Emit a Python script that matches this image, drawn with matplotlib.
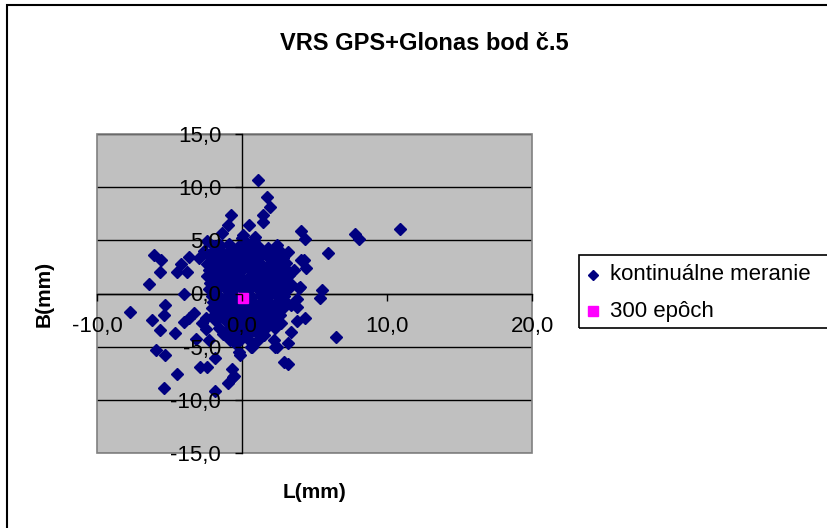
import matplotlib
matplotlib.use("Agg")
import matplotlib.pyplot as plt
from matplotlib.patches import Rectangle
from matplotlib.lines import Line2D
from matplotlib.ticker import FuncFormatter

plt.rcParams['font.family'] = ['Liberation Sans', 'DejaVu Sans']
plt.rcParams['axes.unicode_minus'] = False

title = "VRS GPS+Glonas bod č.5"
x_label = "L(mm)"
y_label = "B(mm)"
series_names = ["kontinuálne meranie", "300 epôch"]

# continuous measurement: L offsets (mm)
cont_L = [
    # outlying epochs
    1.1, 1.7, 1.9, 1.45, 1.45, -0.75, -1.0, 0.5, 0.9, 0.1, 2.4, -2.4,
    -6.1, -5.6, -5.65, -6.4, -3.65, -4.2, -4.45, -3.8, -7.7, -5.3, -5.4, -6.2,
    -5.65, -4.6, -4.0, -3.65, -3.3, -5.9, -5.3, -4.45, -5.4, -1.85, -2.9, -2.4,
    -0.7, -0.55, -0.95, -1.85, -0.15, 0.65, -0.45, 2.3, 2.9, 4.1, 4.35, 7.8,
    8.05, 10.9, 5.95, 3.2, 2.8, 2.55, 4.1, 4.4, 3.6, 4.0, 5.5, 5.4,
    3.8, 4.35, 3.8, 6.5, 2.7, 3.35, 3.2, 2.4, 3.2, 2.2, 0.7, -0.2,
    -0.65, -3.0, -2.6, -1.9, -1.4, -1.6, -2.5, -2.75, -2.3, -3.2, -4.0, -2.5,
    3.9, 3.25, 3.0, 3.8, 3.35, 0.0, 0.8, 4.3,
    # core of the cloud
    -1.5, -0.9, -0.3, 0.4, 1.1, 1.8,
    -2.0, -1.4, -0.8, -0.2, 0.3, 0.8, 1.4, 2.0, 2.6,
    -2.2, -1.7, -1.1, -0.5, 0.0, 0.6, 1.1, 1.7, 2.2, 2.8,
    -2.4, -1.9, -1.3, -0.8, -0.2, 0.3, 0.9, 1.4, 2.0, 2.5, 3.0,
    -2.3, -1.6, -1.0, -0.5, 0.1, 0.6, 1.2, 1.7, 2.3, 2.9,
    -2.4, -1.9, -1.3, -0.7, -0.2, 0.4, 0.9, 1.5, 2.0, 2.6, 3.2,
    -2.2, -1.6, -1.1, -0.5, 0.1, 0.6, 1.2, 1.7, 2.3, 2.8, 3.4,
    -2.3, -1.8, -1.2, -0.7, -0.1, 0.4, 1.0, 1.5, 2.1, 2.6, 3.2,
    -2.1, -1.5, -1.0, -0.4, 0.2, 0.7, 1.3, 1.8, 2.4, 2.9,
    -2.0, -1.4, -0.9, -0.3, 0.3, 0.8, 1.4, 1.9, 2.5, 3.0,
    -2.1, -1.6, -1.0, -0.5, 0.1, 0.6, 1.2, 1.7, 2.3, 2.8,
    -1.9, -1.3, -0.8, -0.2, 0.4, 0.9, 1.5, 2.0, 2.6,
    -1.8, -1.2, -0.6, -0.1, 0.5, 1.0, 1.6, 2.1,
    -1.6, -1.0, -0.4, 0.2, 0.7, 1.3, 1.8, 2.3,
    -1.3, -0.7, -0.1, 0.4, 1.0, 1.5,
    -0.8, -0.2, 0.4, 1.0,
]

# continuous measurement: B offsets (mm)
cont_B = [
    10.7, 9.1, 8.1, 7.4, 6.7, 7.4, 6.45, 6.45, 5.35, 5.5, 4.55, 4.9,
    3.6, 3.15, 2.0, 0.9, 3.45, 2.8, 2.0, 2.0, -1.7, -1.05, -2.0, -2.45,
    -3.4, -3.7, -2.7, -2.3, -1.8, -5.3, -5.75, -7.55, -8.9, -6.1, -6.9, -6.9,
    -7.1, -7.75, -8.4, -9.2, -5.75, -5.0, -4.7, -5.0, -6.45, 5.9, 5.1, 5.55,
    5.1, 6.05, 3.8, 3.9, 3.3, 2.7, 3.15, 2.4, 2.2, 0.6, 0.3, -0.4,
    -0.5, -2.35, -2.6, -4.1, -2.8, -3.6, -4.7, -5.0, -6.6, -4.4, -5.0, -5.5,
    -7.85, 3.3, 4.0, 4.45, 5.7, 4.7, -3.3, -2.8, -4.4, -4.25, 0.0, -2.35,
    0.5, 1.7, 2.35, -1.25, -1.1, 5.2, 5.0, 3.15,
    4.5, 4.7, 4.4, 4.6, 4.5, 4.3,
    4.0, 3.9, 4.1, 3.9, 4.1, 3.9, 4.0, 3.9, 4.0,
    3.4, 3.3, 3.5, 3.3, 3.5, 3.4, 3.3, 3.5, 3.3, 3.4,
    2.8, 2.7, 2.9, 2.7, 2.9, 2.7, 2.9, 2.7, 2.9, 2.7, 2.9,
    2.2, 2.1, 2.3, 2.1, 2.3, 2.1, 2.2, 2.3, 2.1, 2.2,
    1.6, 1.5, 1.7, 1.5, 1.7, 1.5, 1.7, 1.5, 1.7, 1.5, 1.6,
    1.0, 0.9, 1.1, 0.9, 1.1, 0.9, 1.1, 0.9, 1.0, 1.1, 0.9,
    0.4, 0.3, 0.5, 0.3, 0.5, 0.3, 0.5, 0.3, 0.5, 0.3, 0.4,
    -0.2, -0.3, -0.1, -0.3, -0.1, -0.3, -0.1, -0.3, -0.1, -0.2,
    -0.8, -0.9, -0.7, -0.9, -0.7, -0.9, -0.7, -0.9, -0.7, -0.8,
    -1.4, -1.3, -1.5, -1.3, -1.5, -1.3, -1.5, -1.3, -1.5, -1.4,
    -2.0, -2.1, -1.9, -2.1, -1.9, -2.1, -1.9, -2.1, -2.0,
    -2.6, -2.5, -2.7, -2.5, -2.7, -2.5, -2.7, -2.5,
    -3.2, -3.3, -3.1, -3.3, -3.1, -3.3, -3.1, -3.2,
    -3.8, -3.9, -3.7, -3.9, -3.7, -3.9,
    -4.4, -4.5, -4.3, -4.5,
]

# 300-epoch solution
epoch_L = [0.1]
epoch_B = [-0.4]

x_ticks = [-10, 0, 10, 20]
y_ticks = [-15, -10, -5, 0, 5, 10, 15]

W, H = 827, 528
fig = plt.figure(figsize=(W / 100, H / 100), dpi=100)
fig.patch.set_facecolor('white')

# chart frame
fig.add_artist(Rectangle((7 / W, -0.1), 1.2, 1 - 5 / H + 0.1, transform=fig.transFigure,
                         fill=False, ec='black', lw=1.5))

ax = fig.add_axes([97 / W, 1 - 453 / H, (532 - 97) / W, (453 - 134) / H])
ax.set_facecolor('#C0C0C0')
ax.set_xlim(-10, 20)
ax.set_ylim(-15, 15)
ax.set_axisbelow(False)

for yv in y_ticks:
    ax.axhline(yv, color='black', lw=1, zorder=1)

ax.add_patch(Rectangle((0, 0), 1, 1, transform=ax.transAxes, fill=False,
                       ec='#808080', lw=1.2, zorder=1.2, clip_on=False))

for s in ['top', 'right']:
    ax.spines[s].set_visible(False)
ax.spines['left'].set_position(('data', 0))
ax.spines['bottom'].set_position(('data', 0))
for s in ['left', 'bottom']:
    ax.spines[s].set_color('black')
    ax.spines[s].set_linewidth(1)
    ax.spines[s].set_zorder(1.5)

fmt = FuncFormatter(lambda v, p: f"{v:.1f}".replace('.', ','))
ax.xaxis.set_major_formatter(fmt)
ax.yaxis.set_major_formatter(fmt)
ax.set_xticks(x_ticks)
ax.set_yticks(y_ticks)
ax.tick_params(axis='both', direction='out', length=5, width=1, color='black',
               labelsize=16, labelcolor='black')
ax.tick_params(axis='x', pad=11)
ax.tick_params(axis='y', pad=10)

ax.plot(cont_L, cont_B, linestyle='none', marker='D', markersize=6.6,
        color='#000080', mec='#000080', zorder=2)
ax.plot(epoch_L, epoch_B, linestyle='none', marker='s', markersize=7,
        color='#FF00FF', mec='#FF00FF', zorder=2.1)

fig.text(424 / W, 1 - 43 / H, title, ha='center', va='center', fontsize=17,
         fontweight='bold')
fig.text(314 / W, 1 - 493 / H, x_label, ha='center', va='center', fontsize=15,
         fontweight='bold')
fig.text(44 / W, 1 - 294 / H, y_label, ha='center', va='center', fontsize=15,
         fontweight='bold', rotation=90)

# legend
fig.add_artist(Rectangle((579 / W, 1 - 328 / H), 0.5, 73 / H, transform=fig.transFigure,
                         fill=False, ec='black', lw=1.2))
fig.add_artist(Line2D([593 / W], [1 - 275 / H], transform=fig.transFigure, marker='D',
                      markersize=5.2, color='#000080', linestyle='none'))
fig.add_artist(Line2D([593 / W], [1 - 311 / H], transform=fig.transFigure, marker='s',
                      markersize=6.5, color='#FF00FF', linestyle='none'))
fig.text(610 / W, 1 - 275 / H, series_names[0], ha='left', va='center', fontsize=16)
fig.text(610 / W, 1 - 312 / H, series_names[1], ha='left', va='center', fontsize=16)

fig.savefig('out.png', dpi=100)
